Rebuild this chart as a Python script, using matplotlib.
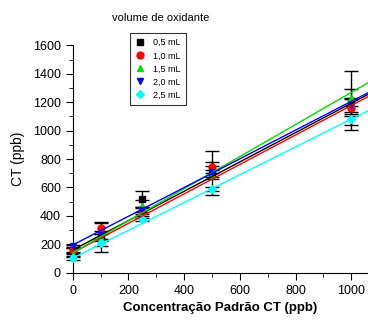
import numpy as np
import matplotlib
matplotlib.use("Agg")
import matplotlib.pyplot as plt
from matplotlib.ticker import MultipleLocator
from matplotlib.lines import Line2D

plt.rcParams['font.family'] = ['Liberation Sans', 'DejaVu Sans']

# concentração padrão (ppb)
x = np.array([0, 100, 250, 500, 1000])

# CT medido para cada volume de oxidante
rotulos = ["0,5 mL", "1,0 mL", "1,5 mL", "2,0 mL", "2,5 mL"]
ct_05 = [155, 253, 516, 700, 1210]
ct_10 = [160, 312, 432, 742, 1160]
ct_15 = [125, 245, 469, 690, 1232]
ct_20 = [188, 265, 438, 711, 1182]
ct_25 = [103, 211, 376, 590, 1080]

err_05 = [20, 105, 60, 156, 207]
err_10 = [15, 40, 30, 40, 60]
err_15 = [15, 25, 40, 30, 60]
err_20 = [10, 30, 25, 40, 50]
err_25 = [15, 25, 12, 15, 40]

# ajuste linear
inclinacao = [1.033, 1.037, 1.129, 1.011, 0.978]
intercepto = [160, 140, 140, 195, 103]

cores = ["black", "red", "#00dd00", "blue", "cyan"]
marcadores = ["s", "o", "^", "v", "D"]
series = [ct_05, ct_10, ct_15, ct_20, ct_25]
erros = [err_05, err_10, err_15, err_20, err_25]

fig = plt.figure(figsize=(3.68, 3.22), dpi=100)
ax = fig.add_axes([0.1976, 0.1531, 0.8024, 0.7059])

xx = np.array([0, 1060])
handles = []
for y, e, c, m, lab, a, b in zip(series, erros, cores, marcadores, rotulos,
                                 inclinacao, intercepto):
    ms = 5 if m != "D" else 4
    ax.errorbar(x, y, yerr=e, fmt=m, color=c, ecolor="black", elinewidth=1,
                capsize=5, capthick=1, markersize=ms, clip_on=False, zorder=3)
    ax.plot(xx, a * xx + b, color=c, lw=1, zorder=4)
    handles.append(Line2D([], [], marker=m, color=c, ls='none',
                          markersize=ms, label=lab))

ax.set_xlim(0, 1060)
ax.set_ylim(0, 1600)
ax.xaxis.set_major_locator(MultipleLocator(200))
ax.xaxis.set_minor_locator(MultipleLocator(100))
ax.yaxis.set_major_locator(MultipleLocator(200))
ax.yaxis.set_minor_locator(MultipleLocator(100))
ax.spines['top'].set_visible(False)
ax.spines['right'].set_visible(False)
ax.tick_params(which='major', length=5, labelsize=9)
ax.tick_params(which='minor', length=3)

ax.set_xlabel("Concentração Padrão CT (ppb)", fontsize=9.5, fontweight='bold')
ax.set_ylabel("CT (ppb)", fontsize=10, labelpad=6)

leg = ax.legend(handles=handles, loc='upper left', bbox_to_anchor=(0.18, 1.075),
                fontsize=6.5, frameon=True, fancybox=False, edgecolor='black',
                handletextpad=0.9, borderpad=0.6, labelspacing=0.45,
                handlelength=1.0)
leg.get_frame().set_linewidth(0.8)
fig.text(0.305, 0.935, "volume de oxidante", fontsize=8)

fig.savefig("out.png", dpi=100)
